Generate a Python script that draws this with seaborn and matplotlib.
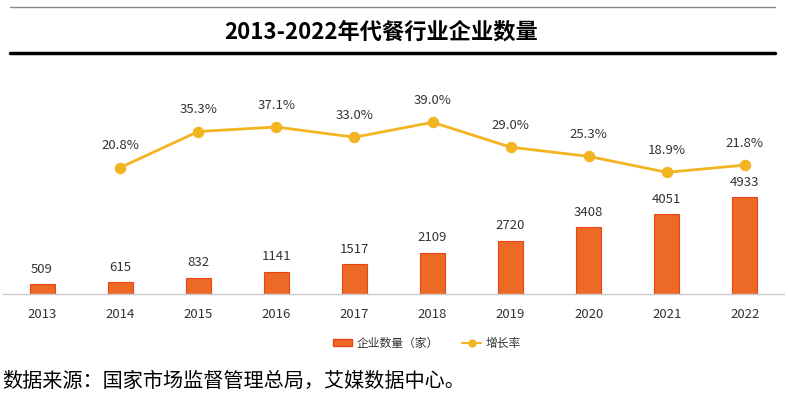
import matplotlib
matplotlib.use("Agg")
import matplotlib.pyplot as plt
from matplotlib.lines import Line2D
import numpy as np
import pandas as pd
import seaborn as sns

sns.set_style("white")
plt.rcParams['font.family'] = ['Noto Sans CJK SC', 'DejaVu Sans']

# Data
years = ["2013", "2014", "2015", "2016", "2017", "2018", "2019", "2020", "2021", "2022"]
companies = [509, 615, 832, 1141, 1517, 2109, 2720, 3408, 4051, 4933]
growth = [np.nan, 20.8, 35.3, 37.1, 33.0, 39.0, 29.0, 25.3, 18.9, 21.8]

df = pd.DataFrame({"year": years, "count": companies, "growth": growth})

BAR_COLOR = "#EC6A25"
BAR_EDGE = "#E8461A"
LINE_COLOR = "#F2B420"
TEXT_COLOR = "#333333"

fig = plt.figure(figsize=(7.88, 3.97), dpi=100)
ax = fig.add_axes([3 / 788, 1 - 294 / 397, 781 / 788, 214 / 397])

sns.barplot(data=df, x="year", y="count", color=BAR_COLOR, width=0.32,
            edgecolor=BAR_EDGE, linewidth=0.8, saturation=1, ax=ax)
ax.set_ylim(0, 10884)
ax.set_xlim(-0.5, 9.5)
for i, v in enumerate(companies):
    ax.annotate(f"{v}", (i, v), xytext=(0, 6), textcoords="offset points",
                ha="center", va="bottom", fontsize=9.5, color=TEXT_COLOR)

ax2 = ax.twinx()
sns.lineplot(x=np.arange(len(years)), y=growth, color=LINE_COLOR, linewidth=2,
             marker="o", markersize=7.5, markeredgecolor=LINE_COLOR, ax=ax2)
ax2.set_ylim(-30, 56)
for i, g in enumerate(growth):
    if not np.isnan(g):
        ax2.annotate(f"{g:.1f}%", (i, g), xytext=(0, 11), textcoords="offset points",
                     ha="center", va="bottom", fontsize=9.5, color=TEXT_COLOR)

for a in (ax, ax2):
    for s in ["top", "right", "left"]:
        a.spines[s].set_visible(False)
    a.set_yticks([])
    a.set_ylabel("")
ax2.spines["bottom"].set_visible(False)
ax.spines["bottom"].set_color("#CCCCCC")
ax.spines["bottom"].set_linewidth(1)
ax.set_xlabel("")
ax.tick_params(axis="x", length=0, pad=10, labelsize=9.5, labelcolor=TEXT_COLOR)

# Legend
handles = [
    plt.Rectangle((0, 0), 1, 1, facecolor=BAR_COLOR, edgecolor=BAR_EDGE),
    Line2D([0], [0], color=LINE_COLOR, lw=1.5, marker="o", markersize=5),
]
fig.legend(handles, ["企业数量（家）", "增长率"], loc="center",
           bbox_to_anchor=(427 / 788, 1 - 343 / 397), ncol=2, frameon=False,
           fontsize=8.5, handlelength=1.6, handleheight=0.6, columnspacing=2,
           handletextpad=0.4, labelcolor=TEXT_COLOR)

# Title and rules
fig.text(381 / 788, 1 - 32 / 397, "2013-2022年代餐行业企业数量", ha="center", va="center",
         fontsize=16, fontweight="bold", color="black")
fig.add_artist(Line2D([10 / 788, 775 / 788], [1 - 7 / 397] * 2, color="#888888", lw=1))
fig.add_artist(Line2D([10 / 788, 775 / 788], [1 - 53 / 397] * 2, color="black", lw=2.5))

fig.text(2 / 788, 1 - 381 / 397, "数据来源：国家市场监督管理总局，艾媒数据中心。", ha="left",
         va="center", fontsize=14.5, color="black")

fig.savefig("out.png", dpi=100)
